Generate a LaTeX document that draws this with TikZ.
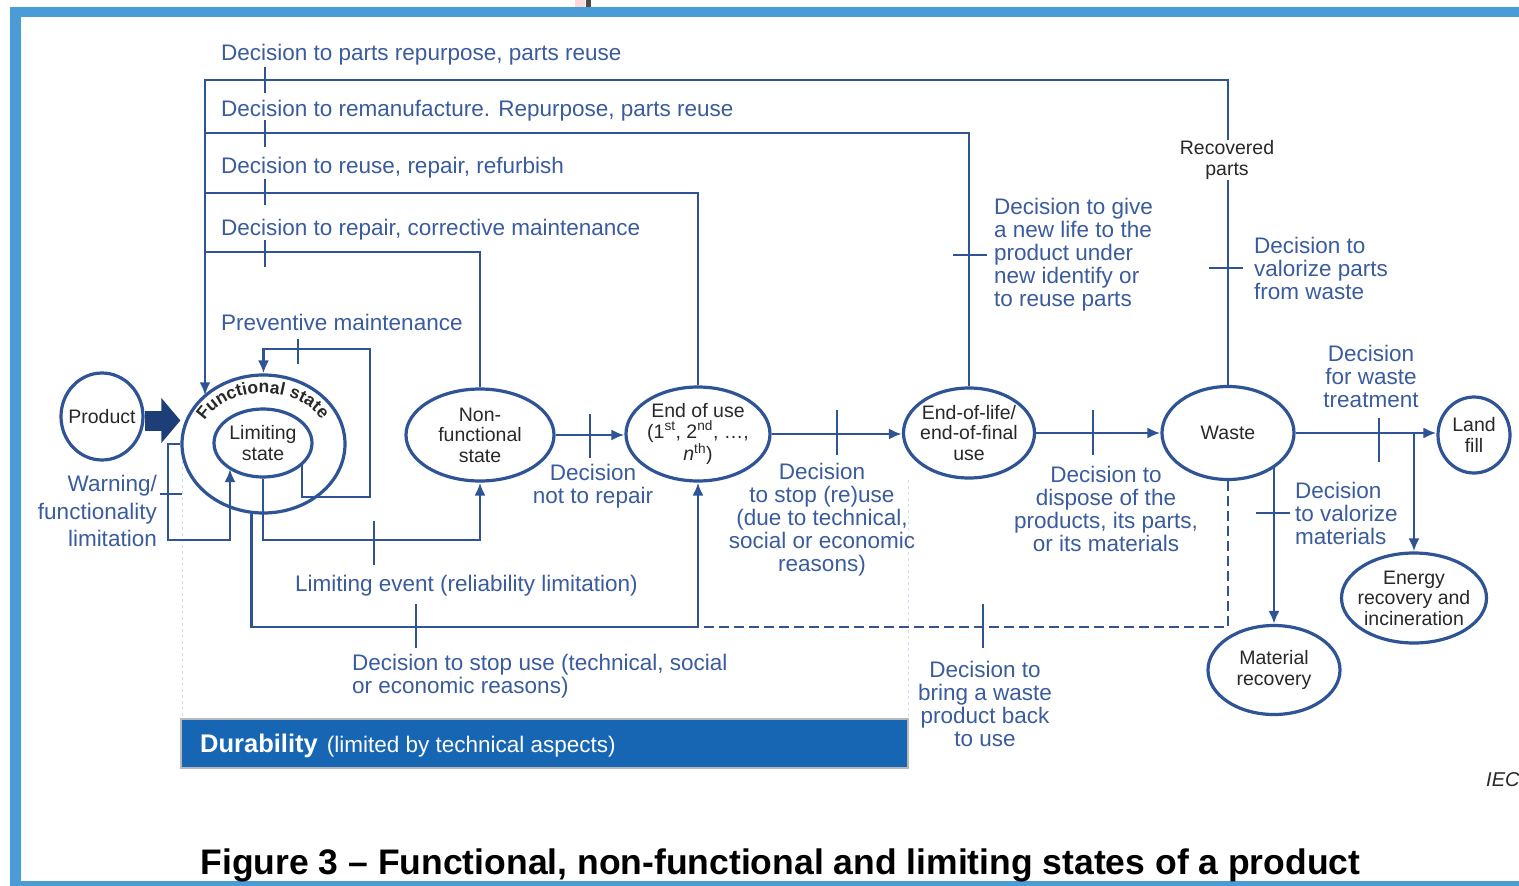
\documentclass[tikz,border=0pt]{standalone}
\usepackage{fontspec}
\setmainfont{Liberation Sans}
\usetikzlibrary{shapes.geometric,arrows.meta,decorations.text,calc}
\definecolor{lineblue}{RGB}{46,84,150}
\definecolor{txtblue}{RGB}{58,92,158}
\definecolor{nodetxt}{RGB}{40,40,40}
\definecolor{frameblue}{RGB}{74,156,214}
\definecolor{durblue}{RGB}{22,102,180}
\definecolor{arrowdark}{RGB}{30,62,120}
\definecolor{guidecol}{RGB}{210,222,245}
\newcommand{\lblfnt}{\fontsize{22.5}{23}\selectfont}
\newcommand{\ndfnt}{\fontsize{19.5}{20.5}\selectfont}
\begin{document}
\begin{tikzpicture}[x=1pt,y=-1pt,
  state/.style={ellipse, draw=lineblue, line width=3.2pt, inner sep=0pt, align=center, font=\ndfnt, text=nodetxt},
  conn/.style={draw=lineblue, line width=2.8pt},
  arr/.style={conn, -{Latex[length=13pt,width=11pt]}},
  tickline/.style={draw=lineblue, line width=2.8pt},
  lbl/.style={font=\lblfnt, text=txtblue, inner sep=0pt},
]
\useasboundingbox (0,0) rectangle (1519,886);
\fill[white] (0,0) rectangle (1519,886);
% frame
\fill[frameblue] (10,7) rectangle (1519,17);
\fill[frameblue] (10,7) rectangle (21,886);
\fill[frameblue] (10,881) rectangle (1519,886);
\fill[pink!60] (575,0) rectangle (585,7);
\fill[gray!60!black] (586,0) rectangle (591,7);

% guide lines
\draw[guidecol, dashed, line width=1pt] (182,455) -- (182,718);
\draw[guidecol, dashed, line width=1pt] (908,480) -- (908,718);

% nodes
\node[state, inner xsep=-5pt, minimum width=82pt, minimum height=87pt] (prod) at (102,416.5) {Product};
\node[state, minimum width=163pt, minimum height=138pt] (fs) at (263.5,444) {};
\node[state, inner xsep=-3pt, minimum width=98pt, minimum height=68pt] (ls) at (263,443) {Limiting\\state};
\node[state, minimum width=148pt, minimum height=92pt] (nf) at (480,435) {Non-\\functional\\state};
\node[state, inner xsep=-1pt, minimum width=144pt, minimum height=94pt] (eou) at (698,434) {End of use\\(1\textsuperscript{st}, 2\textsuperscript{nd}, \ldots,\\\textit{n}\textsuperscript{th})};
\node[state, inner xsep=-4pt, minimum width=131pt, minimum height=90pt] (eol) at (969,433) {End-of-life/\\end-of-final\\use};
\node[state, minimum width=132pt, minimum height=93pt] (waste) at (1228,433) {Waste};
\node[state, minimum width=72pt, minimum height=76pt] (lf) at (1474,435) {Land\\fill};
\node[state, inner xsep=-7pt, minimum width=145pt, minimum height=90pt] (er) at (1414,598) {Energy\\recovery and\\incineration};
\node[state, minimum width=132pt, minimum height=89pt] (mr) at (1274,670) {Material\\recovery};

% curved text
\path[decorate, decoration={text along path, text align=center,
  text={|\fontsize{17.5}{17.5}\selectfont\bfseries\color{nodetxt}|Functional state}}]
  (fs.center) ++(170:66pt and 51pt) arc[start angle=170, end angle=12, x radius=66pt, y radius=51pt];

% big arrow
\draw[line width=20pt, arrowdark, -{Triangle[length=19pt,width=44pt]}] ([yshift=-4pt]prod.east) -- ([yshift=-4pt]prod.east -| fs.west);

% coordinates
\coordinate (t1) at (205,80);
\coordinate (t2) at (205,133);
\coordinate (t3) at (205,193);
\coordinate (t4) at (205,252);
\coordinate (p1) at (302,497);
\coordinate (p2) at (370,349);
\coordinate (w0) at (168,540);
\coordinate (w1) at (230,540);
\coordinate (le) at (480,540);
\coordinate (su) at (698,627);
\coordinate (eb) at (er.north |- waste.east);

% top loops
\draw[arr] (waste.north) |- (t1) -- (t1 |- fs.141);
\draw[conn] (eol.north) |- (t2);
\draw[conn] (eou.north) |- (t3);
\draw[conn] (nf.north) |- (t4);

% inner loops
\draw[arr] (p1 |- ls.-26) -- (p1) -| (p2) -| (fs.north);
\draw[arr] (fs.west) -| (w0) -- (w1) -- (w1 |- ls.-143);
\draw[arr] (ls.south) |- (le) -- (nf.south);
\draw[conn, dash pattern=on 10pt off 5pt] (waste.south) |- (su);
\draw[arr] (fs.-100) |- (su) -- (eou.south);

% main chain
\draw[arr] (nf.east) -- (nf.east -| eou.west);
\draw[arr] (eou.east) -- (eou.east -| eol.west);
\draw[arr] (eol.east) -- (eol.east -| waste.west);
\draw[arr] (waste.east) -- (waste.east -| lf.west);
\draw[arr] (eb) -- (er.north);
\draw[arr] (waste.-33 -| mr.north) -- (mr.north);

% ticks
\draw[tickline] (265,67) -- (265,93);
\draw[tickline] (265,120) -- (265,147);
\draw[tickline] (265,179) -- (265,205);
\draw[tickline] (265,240) -- (265,267);
\draw[tickline] (298,339) -- (298,364);
\draw[tickline] (160,494) -- (182,494);
\draw[tickline] (374,521) -- (374,565);
\draw[tickline] (416,604) -- (416,648);
\draw[tickline] (983,604) -- (983,648);
\draw[tickline] (590,414) -- (590,458);
\draw[tickline] (837,410) -- (837,455);
\draw[tickline] (1093,410) -- (1093,455);
\draw[tickline] (1379,418) -- (1379,462);
\draw[tickline] (953,255) -- (987,255);
\draw[tickline] (1209,268) -- (1243,268);
\draw[tickline] (1256,513) -- (1290,513);

% labels
\node[fill=white, inner sep=1pt, align=center, font=\ndfnt, text=nodetxt] (rec) at (1227,160) {Recovered\\parts};
\node[lbl, anchor=base west] (l1) at (221,60) {Decision to parts repurpose, parts reuse};
\node[lbl, anchor=base west] (l2) at (221,116) {Decision to remanufacture. Repurpose, parts reuse};
\node[lbl, anchor=base west] (l3) at (221,173) {Decision to reuse, repair, refurbish};
\node[lbl, anchor=base west] (l4) at (221,235) {Decision to repair, corrective maintenance};
\node[lbl, anchor=base west] (l5) at (221,330) {Preventive maintenance};
\node[lbl, anchor=west, align=left] (l6) at (994,255) {Decision to give\\a new life to the\\product under\\new identify or\\to reuse parts};
\node[lbl, anchor=west, align=left] (l7) at (1254,268) {Decision to\\valorize parts\\from waste};
\node[lbl, align=center] (l8) at (1371,376) {Decision\\for waste\\treatment};
\node[lbl, anchor=east, align=right, font=\fontsize{22.5}{27.5}\selectfont] (l9) at (157,511) {Warning/\\functionality\\limitation};
\node[lbl, align=center] (l10) at (593,486) {Decision\\not to repair};
\node[lbl, align=center] (l11) at (822,520) {Decision\\to stop (re)use\\(due to technical,\\social or economic\\reasons)};
\node[lbl, align=center] (l12) at (1106,509) {Decision to\\dispose of the\\products, its parts,\\or its materials};
\node[lbl, anchor=west, align=left] (l13) at (1295,513) {Decision\\to valorize\\materials};
\node[lbl, anchor=base west] (l14) at (295,591) {Limiting event (reliability limitation)};
\node[lbl, anchor=west, align=left] (l15) at (352,676) {Decision to stop use (technical, social\\or economic reasons)};
\node[lbl, align=center] (l16) at (985,704) {Decision to\\bring a waste\\product back\\to use};

% durability
\node[draw=gray!55, line width=2pt, fill=durblue, minimum width=727pt, minimum height=49pt, anchor=north west, inner sep=0pt] (dur) at (180,718) {};
\node[anchor=base west, text=white, inner sep=0pt] (durtxt) at (200,752) {{\fontsize{25.5}{26}\selectfont\bfseries Durability}\hspace{9pt}{\fontsize{22.5}{23}\selectfont(limited by technical aspects)}};

\node[anchor=base west, inner sep=0pt, font=\fontsize{20}{20}\selectfont\itshape, text=nodetxt] (iec) at (1486,786) {IEC};
\node[anchor=base, inner sep=0pt, font=\fontsize{35.5}{36}\selectfont\bfseries, text=black] (cap) at (780.5,874) {Figure 3 – Functional, non-functional and limiting states of a product};
\end{tikzpicture}
\end{document}
